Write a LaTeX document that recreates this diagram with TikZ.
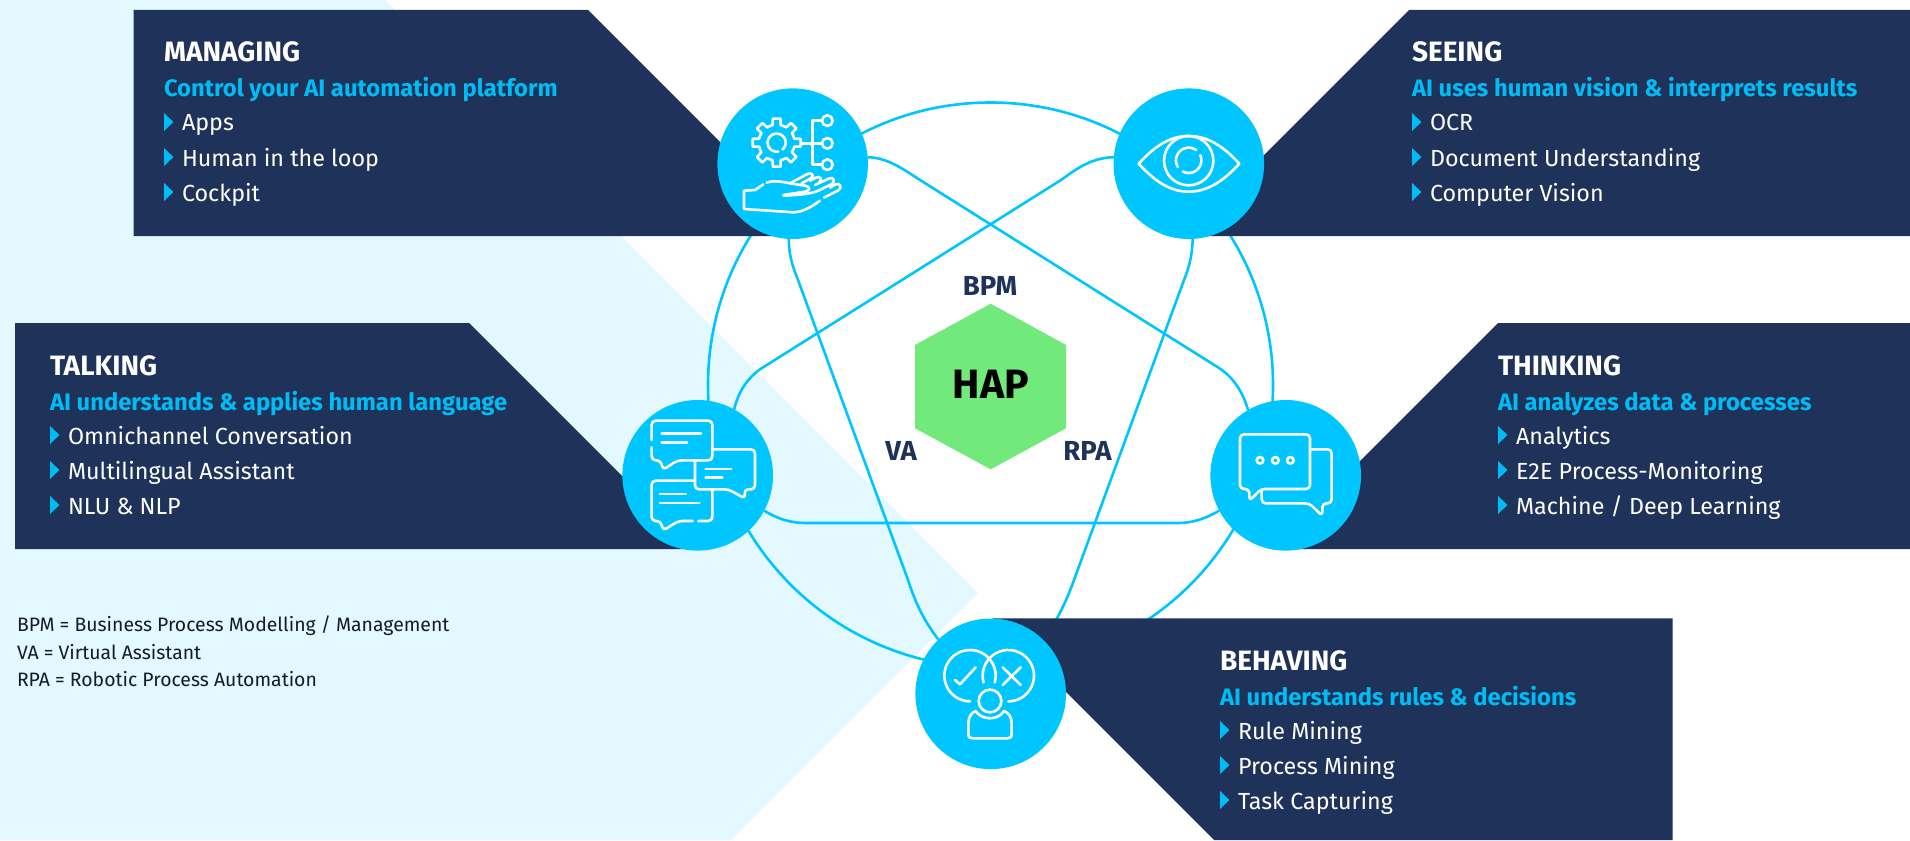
\documentclass[tikz,border=0pt]{standalone}
\usepackage{fontspec}
\setmainfont{Fira Sans}
\definecolor{navy}{HTML}{1F3259}
\definecolor{cyanc}{HTML}{00C6FF}
\definecolor{subc}{HTML}{00BCF5}
\definecolor{pale}{HTML}{E3F8FF}
\definecolor{hexg}{HTML}{72EA7B}
\definecolor{inkc}{HTML}{141B2B}
\pgfdeclarelayer{bgfill}\pgfdeclarelayer{lines}\pgfdeclarelayer{boxes}
\pgfsetlayers{bgfill,lines,boxes,main}
\tikzset{
 panelbox/.style={fill=navy},
 hubc/.style={circle,fill=cyanc,minimum size=150.6pt,inner sep=0pt,outer sep=0pt},
 link/.style={draw=cyanc,line width=2.6pt},
 icon/.style={draw=white,line width=2.6pt,line cap=round,line join=round},
 txt/.style={anchor=base west,inner sep=0pt,outer sep=0pt},
 headt/.style={txt,text=white,font=\fontsize{28}{30}\selectfont\bfseries},
 subt/.style={txt,text=subc,font=\fontsize{23.8}{28}\selectfont\bfseries},
 itemt/.style={txt,text=white,font=\fontsize{23.3}{28}\selectfont},
 labt/.style={anchor=base,inner sep=0pt,text=navy,font=\fontsize{27.5}{30}\selectfont\bfseries},
 legt/.style={txt,text=inkc,font=\fontsize{19.4}{24}\selectfont},
 zoomed/.style={x=0.33333pt,y=-0.33333pt}
}
% visual-angle arc: centre x,y, radius, start, end
\newcommand{\icarc}[5]{\draw[icon] plot[domain=#4:#5,samples=40,smooth] ({#1+#3*cos(\x)},{#2-#3*sin(\x)});}
\newcommand{\bulletm}[2]{\fill[subc] (#1,#2-18) -- (#1+9.4,#2-9) -- (#1,#2) -- cycle;}
\newcommand{\panel}[8]{%
 \node[headt] (#1h) at (#2,#3) {#4};
 \node[subt] (#1s) at (#2,#3+35) {#5};
 \bulletm{#2}{#3+69}\node[itemt] (#1a) at (#2+18,#3+69) {#6};
 \bulletm{#2}{#3+104}\node[itemt] (#1b) at (#2+18,#3+104) {#7};
 \bulletm{#2}{#3+139}\node[itemt] (#1c) at (#2+18,#3+139) {#8};
}
\begin{document}
\begin{tikzpicture}[x=1pt,y=-1pt]
\useasboundingbox (0,0) rectangle (1910,840);
\begin{pgfonlayer}{bgfill}
 \fill[white] (0,0) rectangle (1910,840);
 \fill[pale] (0,0) -- (385,0) -- (978,593) -- (731,840) -- (0,840) -- cycle;
\end{pgfonlayer}
\begin{pgfonlayer}{boxes}
 \fill[panelbox] (133.5,10) -- (588,10) -- (814,236) -- (133.5,236) -- cycle;
 \fill[panelbox] (1910,10) -- (1409,10) -- (1183,236) -- (1910,236) -- cycle;
 \fill[panelbox] (15,323) -- (469,323) -- (695,549) -- (15,549) -- cycle;
 \fill[panelbox] (1910,323) -- (1498,323) -- (1272,549) -- (1910,549) -- cycle;
 \fill[panelbox] (992.5,618.3) -- (1672.5,618.3) -- (1672.5,840) -- (1214,840) -- cycle;
\end{pgfonlayer}
% hubs
\node[hubc] (mg) at (792.7,163.7) {};
\node[hubc] (se) at (1188.8,163.7) {};
\node[hubc] (ta) at (697.7,475.3) {};
\node[hubc] (th) at (1285.7,475.3) {};
\node[hubc] (bh) at (990.7,693.8) {};
% links
\begin{pgfonlayer}{lines}
 \node[circle,draw=cyanc,line width=2.6pt,minimum size=565pt,inner sep=0pt] (ring) at (990.5,385) {};
 \draw[link] (mg.5) .. controls (887,158) and (900,167) .. (920,180) -- (1219,368) .. controls (1233,377) and (1243,392) .. (th.120);
 \draw[link] (se.175) .. controls (1093,158) and (1080,166) .. (1061,180) -- (762,368) .. controls (748,377) and (738,392) .. (ta.61);
 \draw[link] (mg.-93) .. controls (789,255) and (792,265) .. (798,280) -- (908,580) .. controls (916,605) and (925,622) .. (bh.134);
 \draw[link] (se.-87) .. controls (1192,255) and (1190,265) .. (1184,280) -- (1074,580) .. controls (1065,605) and (1056,622) .. (bh.46);
 \draw[link] (ta.-28) .. controls (778,519) and (790,523) .. (807,523) -- (1178,523) .. controls (1192,523) and (1205,519) .. (th.-152);
\end{pgfonlayer}
% hexagon
\node[inner sep=0pt] (hexc) at (990.7,386.5) {};
\fill[hexg] (990.7,303.7) -- (1066,345) -- (1066,428.3) -- (990.7,469.3) -- (915,428.3) -- (915,345) -- cycle;
\node[anchor=base,inner sep=0pt,font=\fontsize{41}{44}\selectfont\bfseries,text=black] (hap) at (991,398) {HAP};
\node[labt] (bpm) at (990,295.7) {BPM};
\node[labt] (va) at (901,460) {VA};
\node[labt] (rpa) at (1087.5,460) {RPA};
% panels
\panel{m}{164}{62}{MANAGING}{Control your AI automation platform}{Apps}{Human in the loop}{Cockpit}
\panel{s}{1412}{62}{SEEING}{AI uses human vision \& interprets results}{OCR}{Document Understanding}{Computer Vision}
\panel{t}{50}{375}{TALKING}{AI understands \& applies human language}{Omnichannel Conversation}{Multilingual Assistant}{NLU \& NLP}
\panel{k}{1498}{375}{THINKING}{AI analyzes data \& processes}{Analytics}{E2E Process-Monitoring}{Machine / Deep Learning}
\panel{b}{1220}{670}{BEHAVING}{AI understands rules \& decisions}{Rule Mining}{Process Mining}{Task Capturing}
% legend
\node[legt] (l1) at (17,631.7) {BPM = Business Process Modelling / Management};
\node[legt] (l2) at (17,659) {VA = Virtual Assistant};
\node[legt] (l3) at (17,686) {RPA = Robotic Process Automation};
% icon: managing
\begin{scope}[shift={(620,60)},zoomed]
 \begin{scope}[shift={(470,248)}]
  \foreach \a in {0,45,...,315}{
   \draw[icon] (\a-22.5:54) -- (\a-13:54) -- (\a-9:73) -- (\a+9:73) -- (\a+13:54) -- (\a+22.5:54);
  }
 \end{scope}
 \icarc{470}{248}{27}{-50}{280}
 \draw[icon] (545,250) -- (578,250);
 \draw[icon] (605,182) -- (578,182) -- (578,314) -- (605,314);
 \draw[icon] (578,250) -- (605,250);
 \draw[icon] (622,182) circle[radius=16];
 \draw[icon] (622,250) circle[radius=16];
 \draw[icon] (622,314) circle[radius=16];
 % hand
 \draw[icon] (430,373) -- (405,390) -- (372,392) -- (372,447) -- (520,457) .. controls (550,456) and (575,440) .. (600,422);
 \draw[icon] (612,413) -- (655,391) .. controls (668,383) and (660,365) .. (645,374) -- (630,383);
 \draw[icon] (440,368) .. controls (470,358) and (490,368) .. (555,377) .. controls (572,380) and (572,392) .. (555,395) -- (490,405);
 \draw[icon] (510,370) -- (562,342) .. controls (575,335) and (585,348) .. (572,355) -- (545,370);
 \draw[icon] (570,362) -- (590,352) .. controls (600,348) and (608,358) .. (598,366);
 \draw[icon] (585,375) -- (628,355) .. controls (640,350) and (648,364) .. (635,372) -- (595,392) .. controls (570,403) and (530,405) .. (490,407);
\end{scope}
% icon: seeing
\begin{scope}[shift={(1050,60)},zoomed]
 \draw[icon] (266,311) .. controls (320,252) and (365,228) .. (416,228) .. controls (467,228) and (514,252) .. (568,311) .. controls (514,370) and (467,395) .. (416,395) .. controls (365,395) and (320,370) .. cycle;
 \draw[icon] (416,302) circle[radius=74];
 \icarc{416}{301}{38}{211}{54}
 \icarc{416}{301}{38}{24}{-118}
\end{scope}
% icon: talking
\begin{scope}[shift={(590,370)},zoomed]
 \draw[icon,rounded corners=4pt] (185,232) -- (185,271) -- (212,271) -- (219,300) -- (262,271) -- (367,271) -- (367,152) -- (185,152) -- (185,210);
 \draw[icon] (215,190) -- (333,190);
 \draw[icon] (215,217) -- (291,217);
 \draw[icon,rounded corners=4pt] (370,238) -- (495,238) -- (495,358) -- (463,358) -- (466,386) -- (415,358) -- (315,358) -- (315,272);
 \draw[icon] (347,297) -- (423,297);
 \draw[icon] (347,323) -- (397,323);
 \draw[icon,rounded corners=4pt] (315,332) -- (185,332) -- (185,453) -- (212,453) -- (219,482) -- (265,453) -- (308,453);
 \draw[icon,rounded corners=4pt] (325,453) -- (367,453) -- (367,358);
 \draw[icon] (210,372) -- (287,372);
 \draw[icon] (210,399) -- (328,399);
\end{scope}
% icon: thinking
\begin{scope}[shift={(1180,370)},zoomed]
 \draw[icon,rounded corners=4pt] (180,193) -- (390,193) -- (390,357) -- (243,357) -- (208,393) -- (208,357) -- (180,357) -- cycle;
 \draw[icon,rounded corners=4pt] (392,238) -- (455,238) -- (455,400) -- (427,400) -- (427,438) -- (388,400) -- (245,400) -- (245,362);
 \draw[icon] (240,271) circle[radius=10];
 \draw[icon] (286,271) circle[radius=10];
 \draw[icon] (331,271) circle[radius=10];
\end{scope}
% icon: behaving
\begin{scope}[shift={(880,590)},zoomed]
 \icarc{270}{257}{77}{270}{-15}
 \icarc{385}{257}{77}{-90}{195}
 \draw[icon] (225,270) -- (240,283) -- (287,232);
 \draw[icon] (368,232) -- (422,285);
 \draw[icon] (422,232) -- (368,285);
 \draw[icon] (330,333) circle[radius=34];
 \draw[icon] (287,363) .. controls (305,392) and (355,392) .. (372,363) .. controls (385,368) and (395,380) .. (395,400) -- (395,432) .. controls (395,442) and (390,445) .. (382,445) -- (278,445) .. controls (270,445) and (265,442) .. (265,432) -- (265,400) .. controls (265,380) and (275,368) .. (287,363) -- cycle;
\end{scope}
\end{tikzpicture}
\end{document}
